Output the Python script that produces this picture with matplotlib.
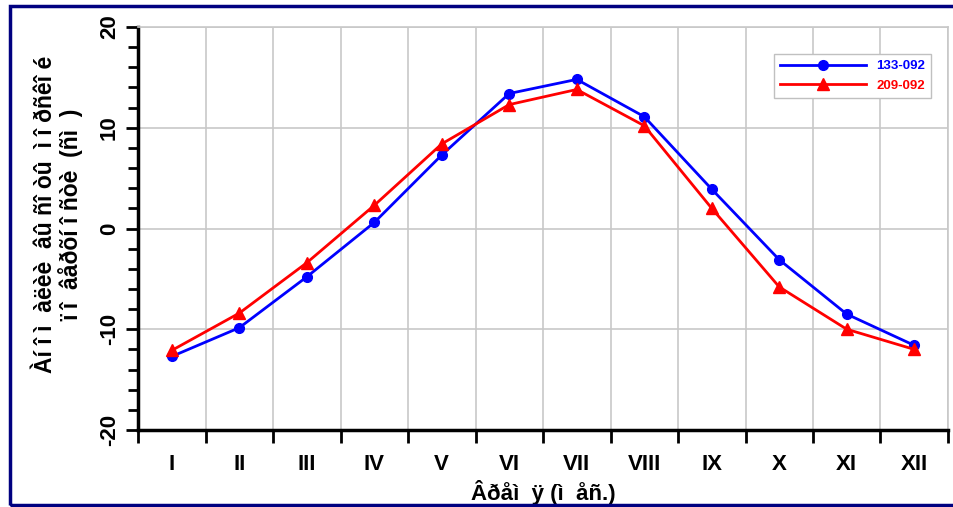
import matplotlib
matplotlib.use("Agg")
import matplotlib.pyplot as plt
from matplotlib.patches import Rectangle
from matplotlib.ticker import MultipleLocator, FixedLocator

# данные
months = ['I', 'II', 'III', 'IV', 'V', 'VI', 'VII', 'VIII', 'IX', 'X', 'XI', 'XII']
s133 = [-12.7, -9.85, -4.8, 0.6, 7.3, 13.4, 14.8, 11.1, 3.9, -3.1, -8.5, -11.6]
s209 = [-12.1, -8.4, -3.4, 2.3, 8.4, 12.3, 13.8, 10.2, 2.0, -5.8, -10.0, -12.0]
labels = ['133-092', '209-092']

ylabel = 'Àí î ì  àëèè  âû ñî òû  ì î ðñêî é\nï î  âåðõí î ñòè  (ñì  )'
xlabel = 'Âðåì  ÿ (ì  åñ.)'

plt.rcParams['font.family'] = ['Liberation Sans', 'DejaVu Sans']
plt.rcParams['font.weight'] = 'bold'
plt.rcParams['axes.unicode_minus'] = False

fig = plt.figure(figsize=(9.54, 5.07), dpi=100)
ax = fig.add_axes([0.1447, 0.1519, 0.849, 0.7948])

x = list(range(len(months)))
ax.plot(x, s133, color='#0000ff', lw=2, marker='o', ms=7, label=labels[0], zorder=3)
ax.plot(x, s209, color='#ff0000', lw=2, marker='^', ms=8, label=labels[1], zorder=3)

ax.set_xlim(-0.5, len(months) - 0.5)
ax.set_ylim(-20, 20)

# x: границы месяцев - засечки и сетка, подписи по центру
ax.xaxis.set_major_locator(FixedLocator([i - 0.5 for i in range(len(months) + 1)]))
ax.xaxis.set_minor_locator(FixedLocator(x))
ax.set_xticklabels([], minor=False)
ax.set_xticklabels(months, minor=True, fontsize=16, fontweight='bold')
ax.tick_params(axis='x', which='major', direction='out', length=9, width=2, color='black')
ax.tick_params(axis='x', which='minor', length=0, pad=17)

ax.yaxis.set_major_locator(MultipleLocator(10))
ax.yaxis.set_minor_locator(MultipleLocator(2))
ax.tick_params(axis='y', which='major', direction='out', length=9, width=2, pad=4)
ax.tick_params(axis='y', which='minor', direction='out', length=7, width=2)
for t in ax.get_yticklabels():
    t.set_rotation(90)
    t.set_va('center')
    t.set_fontsize(16)
    t.set_fontweight('bold')

ax.grid(True, which='major', color='#c8c8c8', lw=1.2, zorder=0)
ax.set_axisbelow(True)

for s in ['top', 'right']:
    ax.spines[s].set_color('#c8c8c8')
    ax.spines[s].set_linewidth(1.2)
for s in ['left', 'bottom']:
    ax.spines[s].set_color('black')
    ax.spines[s].set_linewidth(2.5)

ax.set_xlabel(xlabel, fontsize=16, fontweight='bold', labelpad=4)
ax.set_ylabel(ylabel, fontsize=16.5, fontweight='bold', labelpad=16, linespacing=1.05)
ax.yaxis.set_label_coords(-0.068, 0.535)

leg = ax.legend(loc='upper right', bbox_to_anchor=(0.979, 0.933), fancybox=False,
                edgecolor='#c0c0c0', fontsize=9.5, handlelength=6.5, borderpad=0.45,
                labelspacing=0.55, borderaxespad=0, framealpha=1)
leg.get_frame().set_linewidth(1)
for txt, c in zip(leg.get_texts(), ['#0000ff', '#ff0000']):
    txt.set_color(c)
    txt.set_fontweight('bold')

# рамка вокруг рисунка
fig.patches.append(Rectangle((10 / 954, 0.004), 1.0, 1 - 0.004 - 6 / 507,
                             transform=fig.transFigure, fill=False,
                             edgecolor='#000080', lw=2.5))

fig.savefig('out.png', dpi=100)
